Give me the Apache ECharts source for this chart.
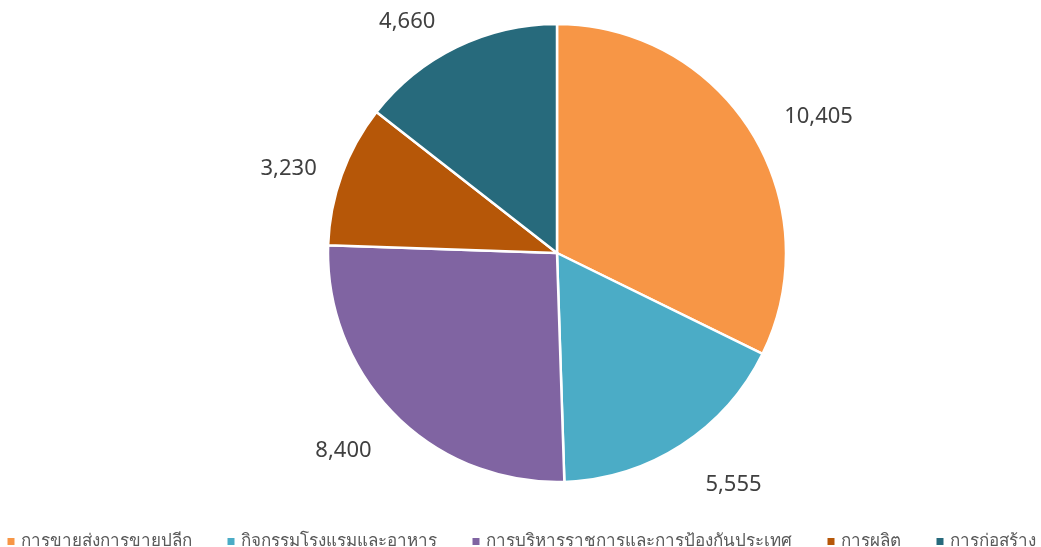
<!DOCTYPE html>
<html><head><meta charset="utf-8">
<script src="https://cdn.jsdelivr.net/npm/echarts@6/dist/echarts.min.js"></script>
<style>html,body{margin:0;padding:0;background:#fff}#c{width:1041px;height:547px}</style>
</head><body><div id="c"></div>
<script>
const categories = ['การขายส่งการขายปลีก','กิจกรรมโรงแรมและอาหาร','การบริหารราชการและการป้องกันประเทศ','การผลิต','การก่อสร้าง'];
const values = [10405, 5555, 8400, 3230, 4660];
const colors = ['#F79646','#4BACC6','#8064A2','#B65708','#276A7C'];
const fmt = v => v.toLocaleString('en-US');
const lowered = p => '\n' + fmt(p.value);
// per-slice label tweaks (style only)
const labelTweaks = [
  {},
  {label:{formatter: lowered, lineHeight:32}},
  {label:{formatter: lowered, lineHeight:35}, labelLine:{length:26, length2:0}},
  {labelLine:{length:17}},
  {}
];
const chart = echarts.init(document.getElementById('c'));
chart.setOption({
  animation:false,
  color: colors,
  legend:{
    top: 528, left: 'center',
    itemWidth: 9, itemHeight: 9, icon: 'rect', itemGap: 34,
    textStyle:{fontSize:17, color:'#595959', fontFamily:'Noto Sans, sans-serif'},
    data: categories
  },
  series:[{
    type:'pie',
    center:[557,253],
    radius:[0,229],
    startAngle:90,
    clockwise:true,
    itemStyle:{borderColor:'#fff', borderWidth:2.5},
    label:{show:true, position:'outside', fontSize:22, color:'#404040', fontFamily:'Noto Sans, sans-serif',
      formatter: p => fmt(p.value)},
    labelLine:{show:false, length:28, length2:4},
    emphasis:{disabled:true},
    data: categories.map((c,i)=>Object.assign({name:c, value:values[i]}, labelTweaks[i]))
  }]
});
</script></body></html>
